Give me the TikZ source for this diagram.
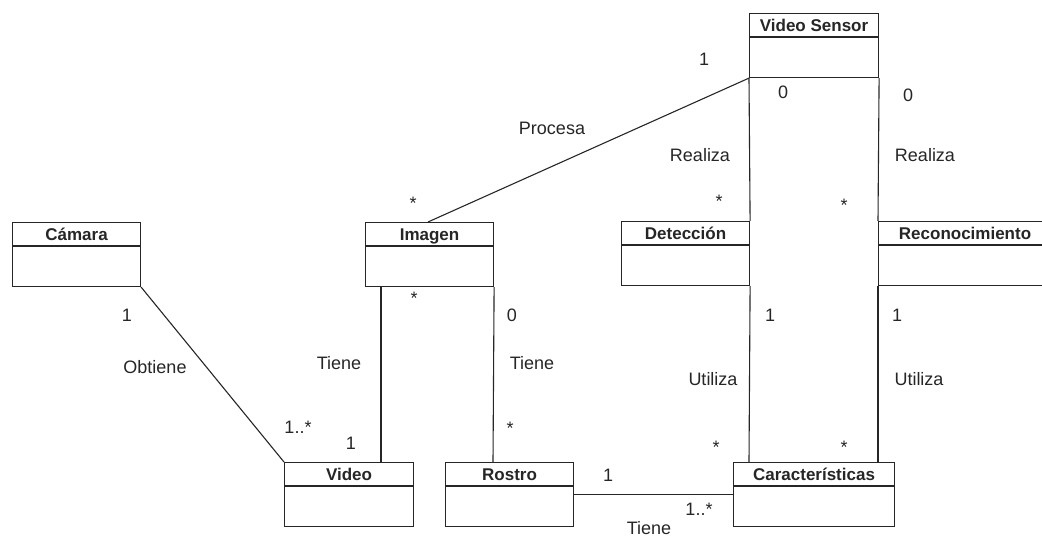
\documentclass[tikz,border=0pt]{standalone}
\usepackage{fontspec}
\setmainfont{Liberation Sans}
\usetikzlibrary{calc}
\definecolor{ink}{RGB}{38,38,38}

% UML class: name, x, y (top left), width, title
\newcommand\umlclass[5]{%
  \node[classbox, minimum width=#4pt] (#1) at (#2,#3) {};
  \draw[ink, line width=1.1pt] ([yshift=-24pt]#1.north west) -- ([yshift=-24pt]#1.north east);
  \node[classtitle] (#1-title) at ([yshift=-18.5pt]#1.north) {#5};
}

\begin{document}
\begin{tikzpicture}[x=1pt, y=-1pt,
  classbox/.style={draw=ink, line width=1.1pt, minimum height=64pt, inner sep=0pt,
                   anchor=north west, fill=white},
  classtitle/.style={font=\fontsize{17}{17}\selectfont\bfseries, text=ink,
                     inner sep=0pt, anchor=base},
  lbl/.style={font=\fontsize{18}{18}\selectfont, text=ink, inner sep=0pt, anchor=base},
  assoc/.style={draw=ink, line width=1.1pt}]

\useasboundingbox (0,0) rectangle (1042,537);
\clip (0,0) rectangle (1042,537);

% classes
\umlclass{camara}{12}{222}{128}{Cámara}
\umlclass{imagen}{365}{222}{128}{Imagen}
\umlclass{sensor}{749}{13}{129}{Video Sensor}
\umlclass{deteccion}{621}{221}{128}{Detección}
\umlclass{reconoc}{878}{221}{173}{Reconocimiento}
\umlclass{video}{284}{462}{129}{Video}
\umlclass{rostro}{445}{462}{128}{Rostro}
\umlclass{caract}{733}{462}{161}{Características}

% associations
\draw[assoc] (camara.south east) -- (video.north west);
\draw[assoc] (sensor.south west) -- ([xshift=63pt]imagen.north west);
\draw[assoc] ([xshift=16pt]imagen.south west) -- ([xshift=97pt]video.north west);
\draw[assoc] (imagen.south east) -- ([xshift=48pt]rostro.north west);
\draw[assoc] (sensor.south west) -- (deteccion.north east);
\draw[assoc] (sensor.south east) -- (reconoc.north west);
\draw[assoc] (deteccion.south east) -- ([xshift=16pt]caract.north west);
\draw[assoc] (reconoc.south west) -- ([xshift=145pt]caract.north west);
\draw[assoc] (rostro.east) -- (caract.west);

% association names and multiplicities
\node[lbl] (m1) at (704,65.5) {1};
\node[lbl] (n1) at (552,134.5) {Procesa};
\node[lbl] (m2) at (413,210) {*};
\node[lbl] (m3) at (783,98.5) {0};
\node[lbl] (m4) at (908,101.5) {0};
\node[lbl] (n2) at (700,161.5) {Realiza};
\node[lbl] (n3) at (925,161.5) {Realiza};
\node[lbl] (m5) at (719,208) {*};
\node[lbl] (m6) at (844,212) {*};
\node[lbl] (m7) at (127,321.5) {1};
\node[lbl] (n4) at (155,373.5) {Obtiene};
\node[lbl] (m8) at (298,433) {1..*};
\node[lbl] (m9) at (351,449.5) {1};
\node[lbl] (m10) at (414,305) {*};
\node[lbl] (m11) at (512,321.5) {0};
\node[lbl] (n5) at (339,369.5) {Tiene};
\node[lbl] (n6) at (532,369.5) {Tiene};
\node[lbl] (m12) at (510,434) {*};
\node[lbl] (m13) at (770,321.5) {1};
\node[lbl] (m14) at (897,321.5) {1};
\node[lbl] (n7) at (713,385.5) {Utiliza};
\node[lbl] (n8) at (919,385.5) {Utiliza};
\node[lbl] (m15) at (716,453) {*};
\node[lbl] (m16) at (844,453) {*};
\node[lbl] (m17) at (608,481.5) {1};
\node[lbl] (m18) at (699,515) {1..*};
\node[lbl] (n9) at (649,534) {Tiene};
\end{tikzpicture}
\end{document}
